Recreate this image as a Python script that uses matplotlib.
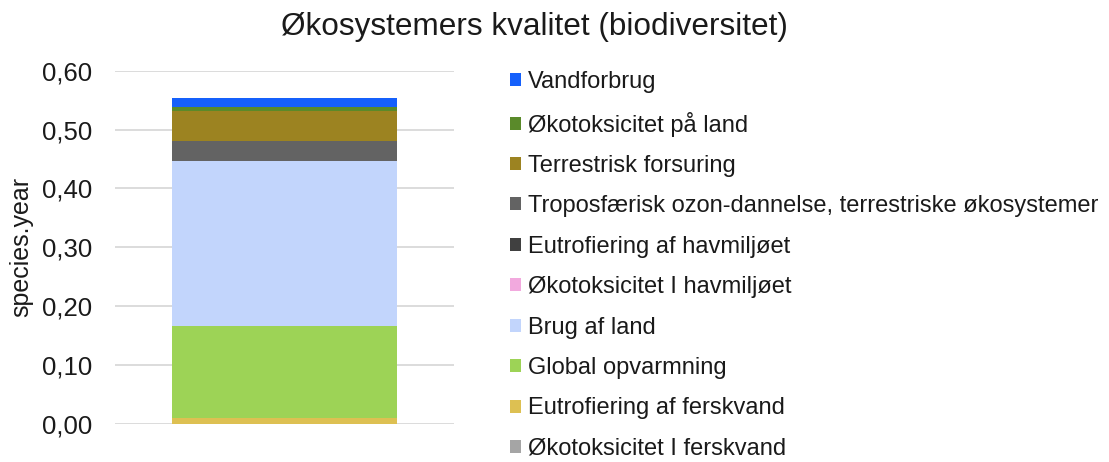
import matplotlib
matplotlib.use("Agg")
import matplotlib.pyplot as plt
from matplotlib.patches import Patch

plt.rcParams['font.family'] = ['Liberation Sans', 'DejaVu Sans']

categories = ['']
# bottom -> top stacking order
series_names = [
    'Økotoksicitet I ferskvand',
    'Eutrofiering af ferskvand',
    'Global opvarmning',
    'Brug af land',
    'Økotoksicitet I havmiljøet',
    'Eutrofiering af havmiljøet',
    'Troposfærisk ozon-dannelse, terrestriske økosystemer',
    'Terrestrisk forsuring',
    'Økotoksicitet på land',
    'Vandforbrug',
]
series_values = [0.0004, 0.0105, 0.1558, 0.2796, 0.0002, 0.0008, 0.0340, 0.0497, 0.0068, 0.0153]
series_colors = ['#A5A5A5', '#DDC052', '#9DD356', '#C2D5FC', '#F2A9DE',
                 '#404040', '#636363', '#9C8321', '#5A8A2A', '#1560FB']
yticks = [0.0, 0.1, 0.2, 0.3, 0.4, 0.5, 0.6]
ytick_labels = ['0,00', '0,10', '0,20', '0,30', '0,40', '0,50', '0,60']

fig = plt.figure(figsize=(11.09, 4.62), dpi=100)
ax = fig.add_axes([0.1037, 0.0823, 0.3057, 0.7647])

bottom = 0.0
for name, val, col in zip(series_names, series_values, series_colors):
    ax.bar(0, val, width=0.666, bottom=bottom, color=col, label=name, zorder=3)
    bottom += val

ax.set_xlim(-0.5, 0.5)
ax.set_ylim(0, 0.6)
ax.set_yticks(yticks)
ax.set_yticklabels(ytick_labels, fontsize=18.5, color='#1a1a1a')
ax.set_xticks([])
ax.tick_params(axis='y', length=0, pad=16.5)
for s in ax.spines.values():
    s.set_visible(False)
ax.grid(axis='y', color='#D5D5D5', linewidth=1.2, zorder=0)
ax.set_ylabel('species.year', fontsize=18, color='#1a1a1a', labelpad=6)

fig.text(0.4815, 0.9416, 'Økosystemers kvalitet (biodiversitet)', ha='center', va='center',
         fontsize=22.7, color='#1a1a1a')

handles = [Patch(facecolor=c, edgecolor='none') for c in series_colors][::-1]
labels = series_names[::-1]
fig.legend(handles, labels, loc='upper left', bbox_to_anchor=(0.46, 0.846),
           frameon=False, fontsize=17, handlelength=0.47, handleheight=0.47,
           handletextpad=0.27, labelspacing=0.78, borderaxespad=0, borderpad=0,
           labelcolor='#1a1a1a')

fig.savefig('out.png', dpi=100)
